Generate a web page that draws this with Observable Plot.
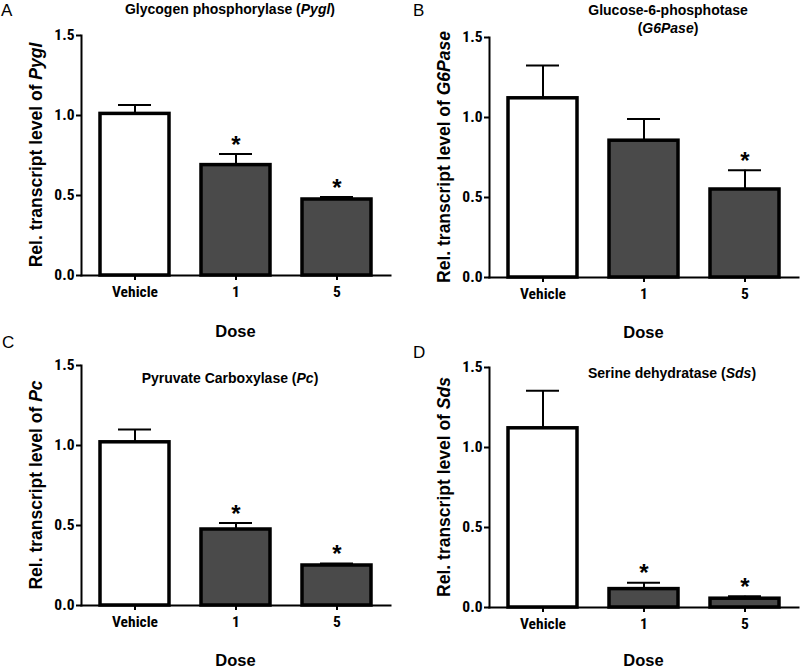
<!DOCTYPE html>
<html>
<head>
<meta charset="utf-8">
<script src="https://cdn.jsdelivr.net/npm/d3@7"></script>
<script src="https://cdn.jsdelivr.net/npm/@observablehq/plot@0.6"></script>
<style>
  html, body { margin: 0; padding: 0; background: #fff; }
  #wrap { position: relative; width: 800px; height: 669px; overflow: hidden; background: #fff; }
  #wrap > div { position: absolute; }
  #wrap svg { background: transparent !important; overflow: visible; }
</style>
</head>
<body>
<div id="wrap">
  <div id="pA" style="left:0;top:0"></div>
  <div id="pB" style="left:400px;top:0"></div>
  <div id="pC" style="left:0;top:330px"></div>
  <div id="pD" style="left:400px;top:330px"></div>
</div>
<script>
const doses = ["Vehicle", "1", "5"];
const yTicks = [0, 0.5, 1.0, 1.5];

const pyglMean = [1.01, 0.69, 0.475];
const pyglSem  = [0.055, 0.07, 0.015];
const pyglSig  = [false, true, true];

const g6paseMean = [1.12, 0.855, 0.55];
const g6paseSem  = [0.205, 0.135, 0.12];
const g6paseSig  = [false, false, true];

const pcMean = [1.02, 0.475, 0.25];
const pcSem  = [0.08, 0.04, 0.012];
const pcSig  = [false, true, true];

const sdsMean = [1.12, 0.115, 0.055];
const sdsSem  = [0.235, 0.04, 0.015];
const sdsSig  = [false, true, true];

const COND = "'Roboto Condensed', 'Liberation Sans Narrow', 'Liberation Sans', Arial, sans-serif";
const SANS = "'Liberation Sans', Arial, sans-serif";

function rows(mean, sem, sig) {
  return doses.map((d, i) => ({dose: d, mean: mean[i], top: mean[i] + sem[i], sig: sig[i]}));
}

function panel(el, cfg) {
  const data = rows(cfg.mean, cfg.sem, cfg.sig);
  const svg = Plot.plot({
    width: 400,
    height: cfg.height,
    marginLeft: cfg.ml,
    marginRight: cfg.mr,
    marginTop: cfg.mt,
    marginBottom: cfg.mb,
    style: {fontFamily: COND, fontSize: "15.5px", fontWeight: "bold", background: "transparent", color: "black", overflow: "visible"},
    x: {domain: doses, paddingInner: 0.32, paddingOuter: 0.18, label: null},
    y: {domain: [0, 1.5], label: null},
    marks: [
      Plot.ruleX(data, {x: "dose", y1: "mean", y2: "top", stroke: "black", strokeWidth: 2}),
      Plot.tickY(data, {x: "dose", y: "top", stroke: "black", strokeWidth: 2, insetLeft: 18, insetRight: 18}),
      Plot.barY(data, {x: "dose", y: "mean", fill: d => d.dose === "Vehicle" ? "white" : "#4a4a4a", stroke: "black", strokeWidth: 3.5}),
      Plot.text(data.filter(d => d.sig), {x: "dose", y: "top", text: () => "*", fontSize: 24, fontWeight: "bold", fontFamily: SANS, dy: -9}),
      Plot.frame({anchor: "left", stroke: "black", strokeWidth: 2}),
      Plot.frame({anchor: "bottom", stroke: "black", strokeWidth: 2}),
      Plot.axisY({ticks: yTicks, tickFormat: d3.format(".1f"), tickSize: 5, tickPadding: 2, strokeWidth: 2, fontSize: 15.5, label: null}),
      Plot.axisX({tickSize: 5, tickPadding: 5, strokeWidth: 2, fontSize: 15.5, label: null})
    ]
  });
  const s = d3.select(svg);
  // Panel letter
  s.append("text").attr("x", cfg.letterX).attr("y", cfg.letterY).attr("text-anchor", "start")
    .attr("font-family", SANS).attr("font-size", 17).attr("font-weight", "normal").text(cfg.letter);
  // Title lines
  cfg.title.forEach((line, i) => {
    const t = s.append("text").attr("x", cfg.titleX).attr("y", cfg.titleY + i * 18)
      .attr("text-anchor", "middle").attr("font-family", SANS).attr("font-size", 14).attr("font-weight", "bold");
    line.forEach(part => t.append("tspan").attr("font-style", part[1] ? "italic" : "normal").text(part[0]));
  });
  // Y label
  const yc = cfg.mt + (cfg.height - cfg.mt - cfg.mb) / 2;
  const yl = s.append("text").attr("transform", `translate(${cfg.ylabX},${yc}) rotate(-90)`)
    .attr("text-anchor", "middle").attr("font-family", SANS).attr("font-size", 17.5).attr("font-weight", "bold");
  yl.append("tspan").text("Rel. transcript level of ");
  yl.append("tspan").attr("font-style", "italic").text(cfg.gene);
  // X label
  s.append("text").attr("x", cfg.ml + (400 - cfg.ml - cfg.mr) / 2).attr("y", cfg.doseY)
    .attr("text-anchor", "middle").attr("font-family", SANS).attr("font-size", 16.5).attr("font-weight", "bold").text("Dose");
  document.getElementById(el).appendChild(svg);
}

panel("pA", {mean: pyglMean, sem: pyglSem, sig: pyglSig, height: 340, ml: 81, mr: 10, mt: 35, mb: 65,
  letter: "A", letterX: 1, letterY: 16, title: [[["Glycogen phosphorylase (", false], ["Pygl", true], [")", false]]],
  titleX: 230, titleY: 14, gene: "Pygl", ylabX: 42, doseY: 337});
panel("pB", {mean: g6paseMean, sem: g6paseSem, sig: g6paseSig, height: 340, ml: 89, mr: 2, mt: 37, mb: 63,
  letter: "B", letterX: 13, letterY: 16, title: [[["Glucose-6-phosphotase", false]], [["(", false], ["G6Pase", true], [")", false]]],
  titleX: 268, titleY: 15, gene: "G6Pase", ylabX: 50, doseY: 338});
panel("pC", {mean: pcMean, sem: pcSem, sig: pcSig, height: 339, ml: 81, mr: 10, mt: 35, mb: 64,
  letter: "C", letterX: 2, letterY: 18, title: [[["Pyruvate Carboxylase (", false], ["Pc", true], [")", false]]],
  titleX: 230, titleY: 53, gene: "Pc", ylabX: 42, doseY: 336});
panel("pD", {mean: sdsMean, sem: sdsSem, sig: sdsSig, height: 339, ml: 89, mr: 2, mt: 37, mb: 62,
  letter: "D", letterX: 13, letterY: 28, title: [[["Serine dehydratase (", false], ["Sds", true], [")", false]]],
  titleX: 272, titleY: 48, gene: "Sds", ylabX: 50, doseY: 336});
</script>
</body>
</html>
